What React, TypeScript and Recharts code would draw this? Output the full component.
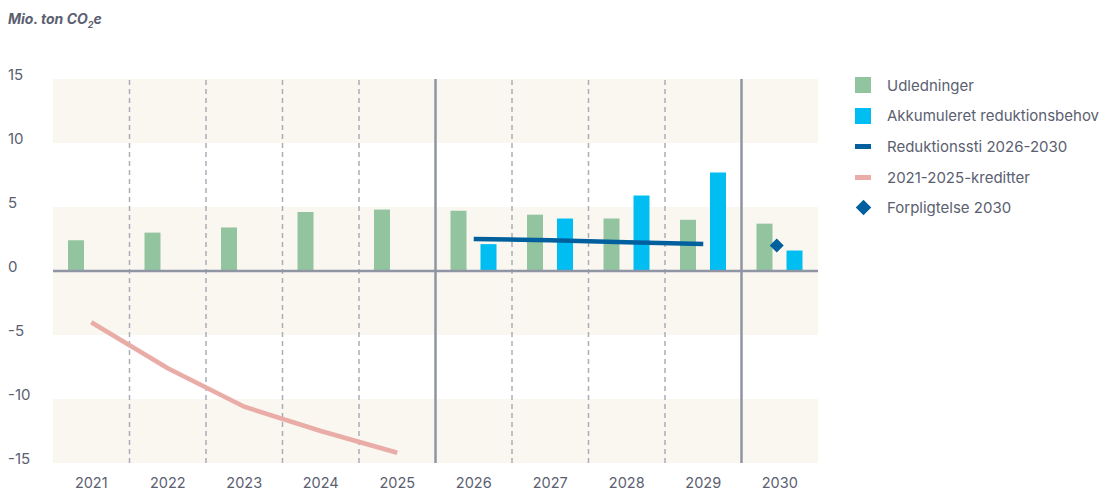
import React from 'react';
import {
  ComposedChart, Bar, Line, XAxis, YAxis, ReferenceArea, ReferenceLine,
} from 'recharts';

const years = ['2021', '2022', '2023', '2024', '2025', '2026', '2027', '2028', '2029', '2030'];
const udledninger = [2.4, 3.0, 3.4, 4.6, 4.8, 4.7, 4.4, 4.1, 4.0, 3.7];
const akkumuleret: (number | null)[] = [null, null, null, null, null, 2.1, 4.1, 5.9, 7.7, 1.6];
const reduktionssti: (number | null)[] = [null, null, null, null, null, 2.5, 2.4, 2.25, 2.1, null];
const kreditter: (number | null)[] = [-4.0, -7.6, -10.6, -12.5, -14.2, null, null, null, null, null];
const forpligtelse: (number | null)[] = [null, null, null, null, null, null, null, null, null, 2.0];
const yTicks = [-15, -10, -5, 0, 5, 10, 15];
const dashedBoundaries = ['2022', '2023', '2024', '2025', '2027', '2028', '2029'];
const solidBoundaries = ['2026', '2030'];
const bands: [number, number][] = [[10, 15], [0, 5], [-5, 0], [-15, -10]];

const data = years.map((y, i) => ({
  year: y,
  udl: udledninger[i],
  akk: akkumuleret[i],
  sti: reduktionssti[i],
  kred: kreditter[i],
  forp: forpligtelse[i],
}));

const GREEN = '#92c4a0';
const CYAN = '#00bef2';
const DARKBLUE = '#00609e';
const PINK = '#e9aca6';
const BEIGE = '#faf6f0';
const TEXT = '#5b6070';
const AXIS = '#8f95a3';
const FONT = 'Inter, "Noto Sans", sans-serif';

const YTick = (props: any) => {
  const { y, payload } = props;
  return (
    <text x={0} y={y - 4} dy="0.35em" textAnchor="start" fill={TEXT} fontSize={15} fontFamily={FONT}>
      {payload.value}
    </text>
  );
};

const XTick = (props: any) => {
  const { x, y, payload } = props;
  return (
    <text x={x} y={y - 1.5} dy="0.35em" textAnchor="middle" fill={TEXT} fontSize={14.5} fontFamily={FONT}>
      {payload.value}
    </text>
  );
};

const Diamond = (props: any) => {
  const { cx, cy, value } = props;
  if (value === null || value === undefined || cx == null || cy == null) return null;
  const r = 7;
  return (
    <polygon
      points={`${cx - 3},${cy - r} ${cx - 3 + r},${cy} ${cx - 3},${cy + r} ${cx - 3 - r},${cy}`}
      fill={DARKBLUE}
    />
  );
};

const legendItems = [
  { label: 'Udledninger', kind: 'square', color: GREEN },
  { label: 'Akkumuleret reduktionsbehov', kind: 'square', color: CYAN },
  { label: 'Reduktionssti 2026-2030', kind: 'line', color: DARKBLUE },
  { label: '2021-2025-kreditter', kind: 'line', color: PINK },
  { label: 'Forpligtelse 2030', kind: 'diamond', color: DARKBLUE },
];

export default function App() {
  return (
    <div style={{ position: 'relative', width: 1099, height: 484, fontFamily: FONT }}>
      <div
        style={{
          position: 'absolute', left: 0, top: 2, fontSize: 14, fontWeight: 700,
          fontStyle: 'italic', color: TEXT, fontFamily: FONT, whiteSpace: 'nowrap',
        }}
      >
        Mio. ton CO<sub style={{ fontSize: 9, verticalAlign: 'sub' }}>2</sub>e
      </div>
      <ComposedChart
        width={1099}
        height={484}
        data={data}
        margin={{ top: 71, right: 289, left: 0, bottom: 0 }}
        barGap={14}
      >
        {bands.map(([a, b]) => (
          <ReferenceArea key={`${a}`} y1={a} y2={b} fill={BEIGE} fillOpacity={1} stroke="none" ifOverflow="visible" />
        ))}
        <XAxis
          dataKey="year"
          axisLine={false}
          tickLine={false}
          height={29}
          tick={<XTick />}
          tickMargin={15}
          interval={0}
        />
        <YAxis
          domain={[-15, 15]}
          ticks={yTicks}
          axisLine={false}
          tickLine={false}
          width={45}
          tick={<YTick />}
          interval={0}
        />
        {dashedBoundaries.map((y) => (
          <ReferenceLine key={y} x={y} position="start" stroke="#a9aeb9" strokeWidth={1.5} strokeDasharray="5 4" />
        ))}
        {solidBoundaries.map((y) => (
          <ReferenceLine key={y} x={y} position="start" stroke={AXIS} strokeWidth={2.5} />
        ))}
        <ReferenceLine y={0} stroke={AXIS} strokeWidth={2.5} />
        <Bar dataKey="udl" fill={GREEN} barSize={16} isAnimationActive={false} />
        <Bar dataKey="akk" fill={CYAN} barSize={16} isAnimationActive={false} />
        <Line dataKey="sti" stroke={DARKBLUE} strokeWidth={4.5} dot={false} isAnimationActive={false} connectNulls={false} />
        <Line dataKey="kred" stroke={PINK} strokeWidth={4.5} dot={false} isAnimationActive={false} connectNulls={false} />
        <Line dataKey="forp" stroke="none" dot={<Diamond />} activeDot={false} isAnimationActive={false} />
      </ComposedChart>
      <div style={{ position: 'absolute', left: 847, top: 62 }}>
        {legendItems.map((it) => (
          <div key={it.label} style={{ display: 'flex', alignItems: 'center', height: 30.6 }}>
            <div style={{ width: 16, height: 16, display: 'flex', alignItems: 'center', justifyContent: 'center', marginRight: 16 }}>
              {it.kind === 'square' && <div style={{ width: 16, height: 16, background: it.color }} />}
              {it.kind === 'line' && <div style={{ width: 16, height: 5, background: it.color }} />}
              {it.kind === 'diamond' && (
                <div style={{ width: 11, height: 11, background: it.color, transform: 'rotate(45deg)' }} />
              )}
            </div>
            <span style={{ fontSize: 15, color: TEXT, whiteSpace: 'nowrap' }}>{it.label}</span>
          </div>
        ))}
      </div>
    </div>
  );
}
